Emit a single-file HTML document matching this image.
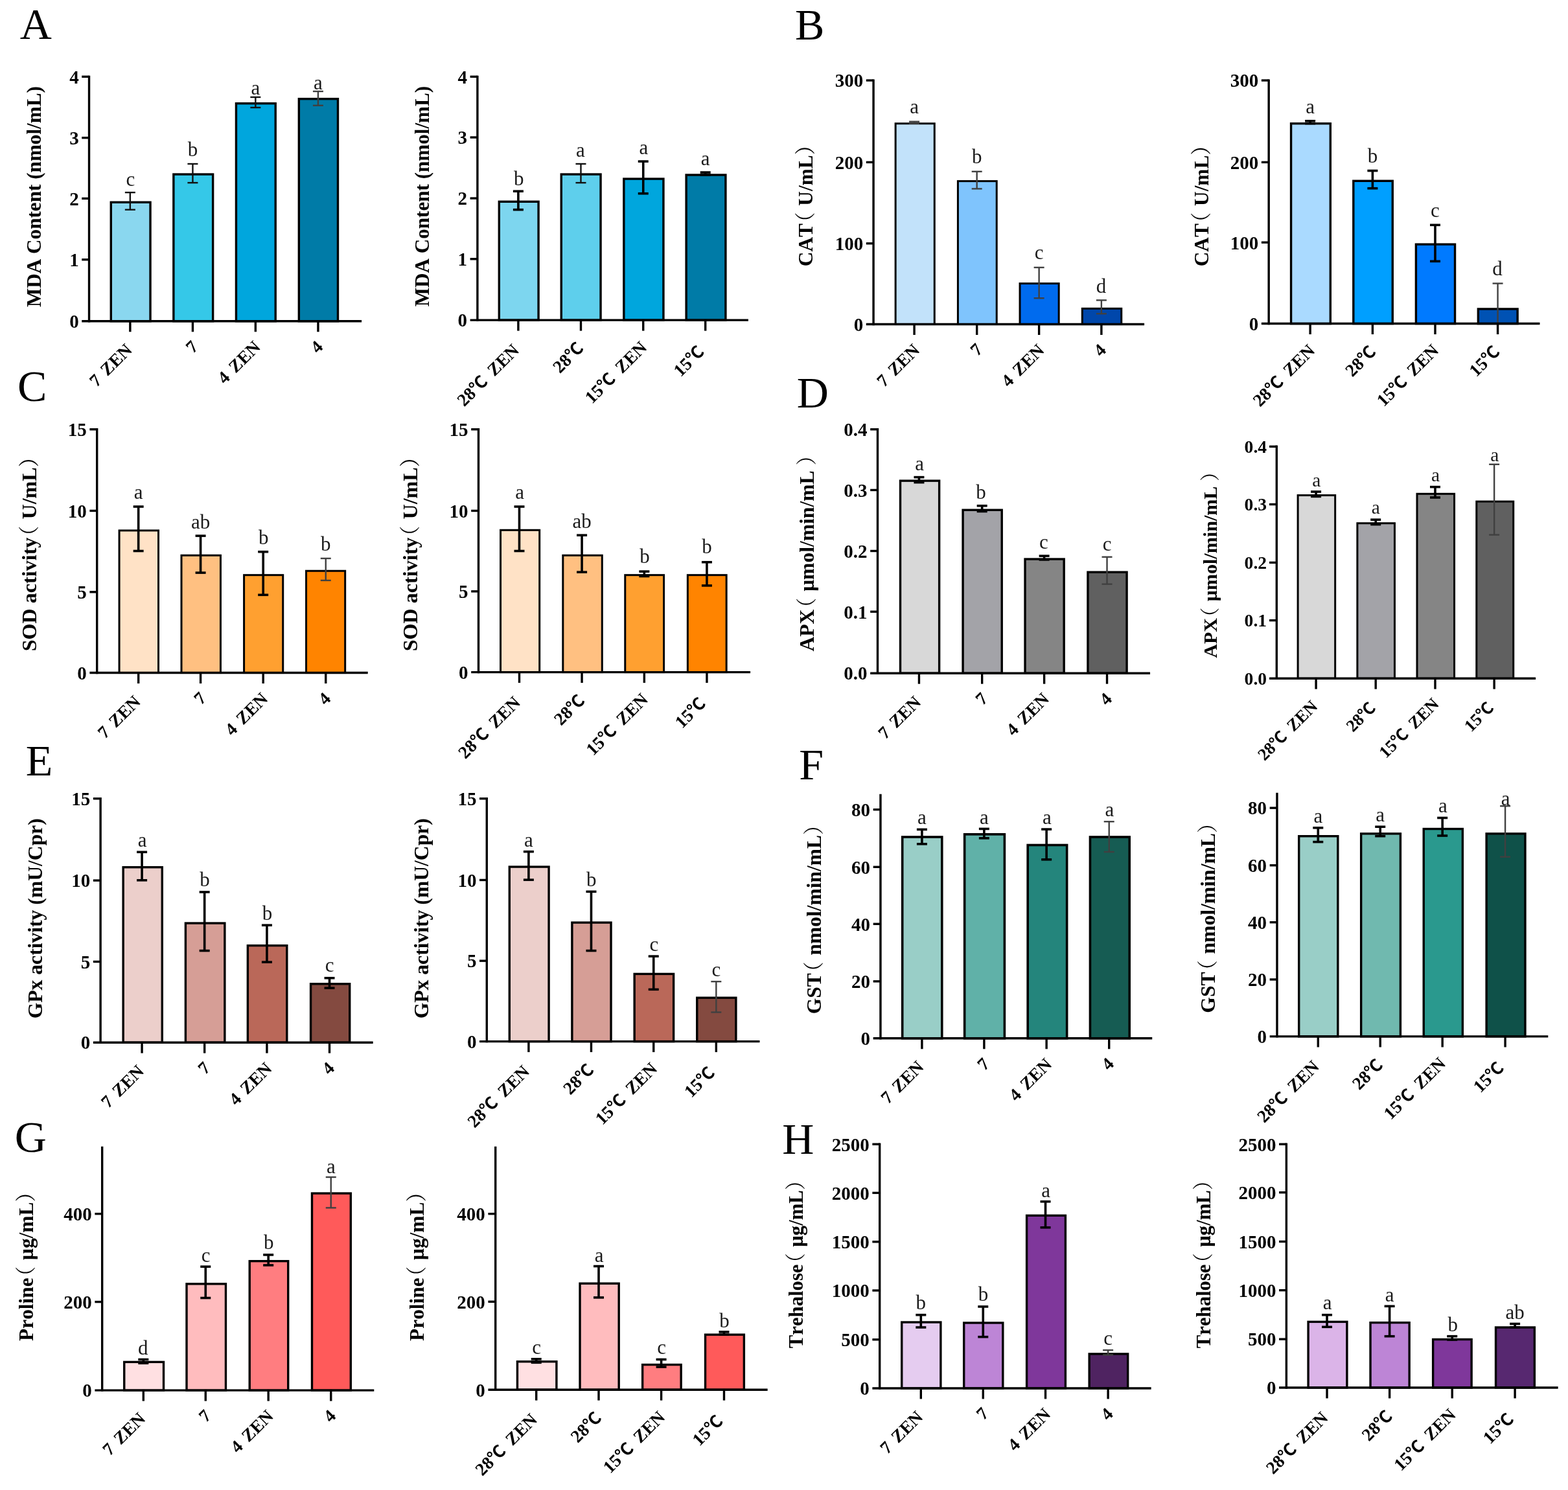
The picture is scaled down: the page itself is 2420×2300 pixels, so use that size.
<!DOCTYPE html>
<html lang="en">
<head>
<meta charset="utf-8">
<title>Figure: antioxidant enzyme activities and osmolytes</title>
<style>
html,body{margin:0;padding:0;background:#fff;}
body{width:2420px;height:2300px;overflow:hidden;}
svg{display:block;}
text{font-family:"Liberation Serif","Noto Serif CJK SC",serif;fill:#000;font-kerning:none;}
.tk{font-size:29px;font-weight:bold;text-anchor:end;}
.lt{font-size:31px;text-anchor:middle;fill:#1a1a1a;}
.xl{font-size:27.3px;font-weight:bold;text-anchor:end;}
.yl{font-size:32px;font-weight:bold;text-anchor:middle;}
.pn{font-size:68px;}
.dc{font-family:"Liberation Sans","Noto Sans CJK SC",sans-serif;font-weight:700;font-size:0.96em;letter-spacing:2px;}
.cj{font-family:"Liberation Serif","Noto Serif CJK SC",serif;font-weight:normal;}
</style>
</head>
<body>
<svg width="2420" height="2300" viewBox="0 0 2420 2300">
<rect width="2420" height="2300" fill="#fff"/>
<g>
<rect x="171.27" y="312.23" width="60.77" height="183.5" fill="#8ad7ef" stroke="#000" stroke-width="3.4"/>
<rect x="267.86" y="269.06" width="60.77" height="226.68" fill="#35c8e8" stroke="#000" stroke-width="3.4"/>
<rect x="364.45" y="159.68" width="60.77" height="336.06" fill="#00a6dd" stroke="#000" stroke-width="3.4"/>
<rect x="461.35" y="152.64" width="60.13" height="343.1" fill="#007ba7" stroke="#000" stroke-width="3.4"/>
<g stroke="#111" stroke-width="2.4" fill="none"><line x1="200.85" y1="297.1" x2="200.85" y2="323.69"/><line x1="192.85" y1="297.1" x2="208.85" y2="297.1"/><line x1="192.85" y1="323.69" x2="208.85" y2="323.69"/></g>
<g stroke="#111" stroke-width="2.4" fill="none"><line x1="297.44" y1="252.97" x2="297.44" y2="282.11"/><line x1="289.44" y1="252.97" x2="305.44" y2="252.97"/><line x1="289.44" y1="282.11" x2="305.44" y2="282.11"/></g>
<g stroke="#111" stroke-width="2.4" fill="none"><line x1="394.35" y1="149.98" x2="394.35" y2="166.01"/><line x1="386.35" y1="149.98" x2="402.35" y2="149.98"/><line x1="386.35" y1="166.01" x2="402.35" y2="166.01"/></g>
<g stroke="#404040" stroke-width="2.4" fill="none"><line x1="490.94" y1="141.02" x2="490.94" y2="162.81"/><line x1="482.94" y1="141.02" x2="498.94" y2="141.02"/><line x1="482.94" y1="162.81" x2="498.94" y2="162.81"/></g>
<g stroke="#000" stroke-width="3.4" fill="none"><line x1="137.53" y1="116.64" x2="137.53" y2="497.44"/><line x1="126.23" y1="495.74" x2="558.1" y2="495.74"/><line x1="126.23" y1="118.34" x2="137.53" y2="118.34"/><line x1="126.23" y1="212.69" x2="137.53" y2="212.69"/><line x1="126.23" y1="306.4" x2="137.53" y2="306.4"/><line x1="126.23" y1="400.75" x2="137.53" y2="400.75"/><line x1="200.85" y1="495.74" x2="200.85" y2="512.24"/><line x1="297.44" y1="495.74" x2="297.44" y2="512.24"/><line x1="394.35" y1="495.74" x2="394.35" y2="512.24"/><line x1="490.94" y1="495.74" x2="490.94" y2="512.24"/></g>
<text class="tk" x="121.63" y="128.64">4</text>
<text class="tk" x="121.63" y="222.99">3</text>
<text class="tk" x="121.63" y="316.7">2</text>
<text class="tk" x="121.63" y="411.05">1</text>
<text class="tk" x="121.63" y="506.04">0</text>
<text class="lt" x="201.49" y="286.73">c</text>
<text class="lt" x="297.44" y="241.15">b</text>
<text class="lt" x="394.35" y="146">a</text>
<text class="lt" x="490.94" y="138.01">a</text>
<text class="xl" transform="translate(205.56 541.81) rotate(-45)">7<tspan dx="3.5"> ZEN</tspan></text>
<text class="xl" transform="translate(307.52 536.81) rotate(-45)">7</text>
<text class="xl" transform="translate(403.45 537.31) rotate(-45)">4<tspan dx="3.5"> ZEN</tspan></text>
<text class="xl" transform="translate(499.81 537.11) rotate(-45)">4</text>
<text class="yl" transform="translate(62.91 303.63) rotate(-90) scale(0.9739 1)">MDA Content (nmol/mL)</text>
</g>
<g>
<rect x="770.31" y="311.27" width="60.77" height="182.86" fill="#7dd6ef" stroke="#000" stroke-width="3.4"/>
<rect x="866.26" y="269.06" width="60.77" height="225.08" fill="#5ecfec" stroke="#000" stroke-width="3.4"/>
<rect x="962.85" y="276.09" width="61.09" height="218.04" fill="#00a6dd" stroke="#000" stroke-width="3.4"/>
<rect x="1059.12" y="270.02" width="60.77" height="224.12" fill="#007ba7" stroke="#000" stroke-width="3.4"/>
<g stroke="#000" stroke-width="3.6" fill="none"><line x1="799.89" y1="295.18" x2="799.89" y2="323.69"/><line x1="791.89" y1="295.18" x2="807.89" y2="295.18"/><line x1="791.89" y1="323.69" x2="807.89" y2="323.69"/></g>
<g stroke="#111" stroke-width="2.4" fill="none"><line x1="896.48" y1="252.97" x2="896.48" y2="282.11"/><line x1="888.48" y1="252.97" x2="904.48" y2="252.97"/><line x1="888.48" y1="282.11" x2="904.48" y2="282.11"/></g>
<g stroke="#000" stroke-width="3.6" fill="none"><line x1="992.75" y1="249.13" x2="992.75" y2="298.74"/><line x1="984.75" y1="249.13" x2="1000.75" y2="249.13"/><line x1="984.75" y1="298.74" x2="1000.75" y2="298.74"/></g>
<g stroke="#000" stroke-width="3.6" fill="none"><line x1="1088.7" y1="266.08" x2="1088.7" y2="269.96"/><line x1="1080.7" y1="266.08" x2="1096.7" y2="266.08"/><line x1="1080.7" y1="269.96" x2="1096.7" y2="269.96"/></g>
<g stroke="#000" stroke-width="3.4" fill="none"><line x1="736.89" y1="116.64" x2="736.89" y2="495.84"/><line x1="725.59" y1="494.14" x2="1154.9" y2="494.14"/><line x1="725.59" y1="118.34" x2="736.89" y2="118.34"/><line x1="725.59" y1="212.05" x2="736.89" y2="212.05"/><line x1="725.59" y1="306.08" x2="736.89" y2="306.08"/><line x1="725.59" y1="399.79" x2="736.89" y2="399.79"/><line x1="799.89" y1="494.14" x2="799.89" y2="510.64"/><line x1="896.48" y1="494.14" x2="896.48" y2="510.64"/><line x1="992.75" y1="494.14" x2="992.75" y2="510.64"/><line x1="1088.7" y1="494.14" x2="1088.7" y2="510.64"/></g>
<text class="tk" x="720.99" y="128.64">4</text>
<text class="tk" x="720.99" y="222.35">3</text>
<text class="tk" x="720.99" y="316.38">2</text>
<text class="tk" x="720.99" y="410.09">1</text>
<text class="tk" x="720.99" y="504.44">0</text>
<text class="lt" x="800.85" y="285.93">b</text>
<text class="lt" x="895.84" y="241.95">a</text>
<text class="lt" x="993.39" y="238.11">a</text>
<text class="lt" x="1088.7" y="254.74">a</text>
<text class="xl" transform="translate(802.78 542.31) rotate(-45)">28<tspan class="dc">℃</tspan><tspan dx="3.5"> ZEN</tspan></text>
<text class="xl" transform="translate(903.55 537.91) rotate(-45)">28<tspan class="dc">℃</tspan></text>
<text class="xl" transform="translate(999.95 538.01) rotate(-45)">15<tspan class="dc">℃</tspan><tspan dx="3.5"> ZEN</tspan></text>
<text class="xl" transform="translate(1089.8 543.41) rotate(-45)">15<tspan class="dc">℃</tspan></text>
<text class="yl" transform="translate(661.51 303.13) rotate(-90) scale(0.9721 1)">MDA Content (nmol/mL)</text>
</g>
<g>
<rect x="1382.14" y="190.7" width="60.13" height="309.83" fill="#c2e2fa" stroke="#000" stroke-width="3.0"/>
<rect x="1478.41" y="279.61" width="59.81" height="220.92" fill="#7fc4fd" stroke="#000" stroke-width="3.0"/>
<rect x="1574.04" y="437.61" width="60.13" height="62.93" fill="#006bee" stroke="#000" stroke-width="3.0"/>
<rect x="1670.31" y="476.31" width="60.45" height="24.23" fill="#0047ab" stroke="#000" stroke-width="3.0"/>
<g stroke="#404040" stroke-width="2.4" fill="none"><line x1="1411.09" y1="187.72" x2="1411.09" y2="190.64"/><line x1="1403.09" y1="187.72" x2="1419.09" y2="187.72"/><line x1="1403.09" y1="190.64" x2="1419.09" y2="190.64"/></g>
<g stroke="#404040" stroke-width="2.4" fill="none"><line x1="1507.68" y1="264.8" x2="1507.68" y2="291.38"/><line x1="1499.68" y1="264.8" x2="1515.68" y2="264.8"/><line x1="1499.68" y1="291.38" x2="1515.68" y2="291.38"/></g>
<g stroke="#404040" stroke-width="2.4" fill="none"><line x1="1603.62" y1="412.88" x2="1603.62" y2="460.25"/><line x1="1595.62" y1="412.88" x2="1611.62" y2="412.88"/><line x1="1595.62" y1="460.25" x2="1611.62" y2="460.25"/></g>
<g stroke="#404040" stroke-width="2.4" fill="none"><line x1="1699.89" y1="463.41" x2="1699.89" y2="484.24"/><line x1="1691.89" y1="463.41" x2="1707.89" y2="463.41"/><line x1="1691.89" y1="484.24" x2="1707.89" y2="484.24"/></g>
<g stroke="#000" stroke-width="3.4" fill="none"><line x1="1348.08" y1="122.39" x2="1348.08" y2="502.23"/><line x1="1336.78" y1="500.53" x2="1766.1" y2="500.53"/><line x1="1336.78" y1="124.09" x2="1348.08" y2="124.09"/><line x1="1336.78" y1="250.43" x2="1348.08" y2="250.43"/><line x1="1336.78" y1="375.8" x2="1348.08" y2="375.8"/><line x1="1411.09" y1="500.53" x2="1411.09" y2="517.03"/><line x1="1507.68" y1="500.53" x2="1507.68" y2="517.03"/><line x1="1603.62" y1="500.53" x2="1603.62" y2="517.03"/><line x1="1699.89" y1="500.53" x2="1699.89" y2="517.03"/></g>
<text class="tk" x="1332.18" y="134.39">300</text>
<text class="tk" x="1332.18" y="260.73">200</text>
<text class="tk" x="1332.18" y="386.1">100</text>
<text class="tk" x="1332.18" y="510.83">0</text>
<text class="lt" x="1411.09" y="174.79">a</text>
<text class="lt" x="1507.68" y="252.35">b</text>
<text class="lt" x="1603.62" y="400.27">c</text>
<text class="lt" x="1699.57" y="452.24">d</text>
<text class="xl" transform="translate(1420.86 542) rotate(-45)">7<tspan dx="3.5"> ZEN</tspan></text>
<text class="xl" transform="translate(1518.23 541.2) rotate(-45)">7</text>
<text class="xl" transform="translate(1613.27 542.2) rotate(-45)">4<tspan dx="3.5"> ZEN</tspan></text>
<text class="xl" transform="translate(1708.68 542) rotate(-45)">4</text>
<text class="yl" transform="translate(1254.27 309.63) rotate(-90) scale(0.9795 1)">CAT<tspan class="cj" dx="-14">（</tspan><tspan dx="2"> U/mL</tspan><tspan class="cj">）</tspan></text>
</g>
<g>
<rect x="1992.55" y="190.7" width="60.77" height="308.88" fill="#aadaff" stroke="#000" stroke-width="3.4"/>
<rect x="2088.82" y="279.29" width="60.45" height="220.28" fill="#009fff" stroke="#000" stroke-width="3.4"/>
<rect x="2185.41" y="377.16" width="60.13" height="122.41" fill="#007aff" stroke="#000" stroke-width="3.4"/>
<rect x="2281.35" y="476.95" width="60.77" height="22.63" fill="#0052b4" stroke="#000" stroke-width="3.4"/>
<g stroke="#000" stroke-width="3.6" fill="none"><line x1="2022.13" y1="186.76" x2="2022.13" y2="190.64"/><line x1="2014.13" y1="186.76" x2="2030.13" y2="186.76"/><line x1="2014.13" y1="190.64" x2="2030.13" y2="190.64"/></g>
<g stroke="#000" stroke-width="3.6" fill="none"><line x1="2118.4" y1="263.52" x2="2118.4" y2="290.74"/><line x1="2110.4" y1="263.52" x2="2126.4" y2="263.52"/><line x1="2110.4" y1="290.74" x2="2126.4" y2="290.74"/></g>
<g stroke="#000" stroke-width="3.6" fill="none"><line x1="2214.99" y1="347.31" x2="2214.99" y2="403.32"/><line x1="2206.99" y1="347.31" x2="2222.99" y2="347.31"/><line x1="2206.99" y1="403.32" x2="2222.99" y2="403.32"/></g>
<g stroke="#404040" stroke-width="2.4" fill="none"><line x1="2311.58" y1="437.51" x2="2311.58" y2="499.27"/><line x1="2303.58" y1="437.51" x2="2319.58" y2="437.51"/></g>
<g stroke="#000" stroke-width="3.4" fill="none"><line x1="1958.17" y1="122.39" x2="1958.17" y2="501.27"/><line x1="1946.87" y1="499.57" x2="2376.5" y2="499.57"/><line x1="1946.87" y1="124.09" x2="1958.17" y2="124.09"/><line x1="1946.87" y1="250.43" x2="1958.17" y2="250.43"/><line x1="1946.87" y1="374.2" x2="1958.17" y2="374.2"/><line x1="2022.13" y1="499.57" x2="2022.13" y2="516.07"/><line x1="2118.4" y1="499.57" x2="2118.4" y2="516.07"/><line x1="2214.99" y1="499.57" x2="2214.99" y2="516.07"/><line x1="2311.58" y1="499.57" x2="2311.58" y2="516.07"/></g>
<text class="tk" x="1942.27" y="134.39">300</text>
<text class="tk" x="1942.27" y="260.73">200</text>
<text class="tk" x="1942.27" y="384.5">100</text>
<text class="tk" x="1942.27" y="509.87">0</text>
<text class="lt" x="2022.13" y="174.79">a</text>
<text class="lt" x="2118.4" y="251.39">b</text>
<text class="lt" x="2214.99" y="335.34">c</text>
<text class="lt" x="2310.94" y="425.05">d</text>
<text class="xl" transform="translate(2030.9 542.82) rotate(-45)">28<tspan class="dc">℃</tspan><tspan dx="3.5"> ZEN</tspan></text>
<text class="xl" transform="translate(2126.5 543.42) rotate(-45)">28<tspan class="dc">℃</tspan></text>
<text class="xl" transform="translate(2221.97 542.62) rotate(-45)">15<tspan class="dc">℃</tspan><tspan dx="3.5"> ZEN</tspan></text>
<text class="xl" transform="translate(2317.73 543.42) rotate(-45)">15<tspan class="dc">℃</tspan></text>
<text class="yl" transform="translate(1864.61 309.88) rotate(-90) scale(0.9768 1)">CAT<tspan class="cj" dx="-14">（</tspan><tspan dx="2"> U/mL</tspan><tspan class="cj">）</tspan></text>
</g>
<g>
<rect x="184.06" y="818.91" width="60.45" height="219.64" fill="#ffe2c6" stroke="#000" stroke-width="3.0"/>
<rect x="280.01" y="857.29" width="60.45" height="181.26" fill="#ffc081" stroke="#000" stroke-width="3.0"/>
<rect x="376.6" y="887.67" width="60.13" height="150.88" fill="#ffa030" stroke="#000" stroke-width="3.0"/>
<rect x="472.55" y="881.27" width="60.13" height="157.28" fill="#ff8400" stroke="#000" stroke-width="3.0"/>
<g stroke="#000" stroke-width="3.6" fill="none"><line x1="213.65" y1="782.03" x2="213.65" y2="850.51"/><line x1="205.65" y1="782.03" x2="221.65" y2="782.03"/><line x1="205.65" y1="850.51" x2="221.65" y2="850.51"/></g>
<g stroke="#000" stroke-width="3.6" fill="none"><line x1="309.59" y1="827.12" x2="309.59" y2="884.09"/><line x1="301.59" y1="827.12" x2="317.59" y2="827.12"/><line x1="301.59" y1="884.09" x2="317.59" y2="884.09"/></g>
<g stroke="#000" stroke-width="3.6" fill="none"><line x1="406.18" y1="851.75" x2="406.18" y2="918.31"/><line x1="398.18" y1="851.75" x2="414.18" y2="851.75"/><line x1="398.18" y1="918.31" x2="414.18" y2="918.31"/></g>
<g stroke="#404040" stroke-width="2.4" fill="none"><line x1="502.77" y1="861.98" x2="502.77" y2="895.93"/><line x1="494.77" y1="861.98" x2="510.77" y2="861.98"/><line x1="494.77" y1="895.93" x2="510.77" y2="895.93"/></g>
<g stroke="#000" stroke-width="3.4" fill="none"><line x1="149.68" y1="661.05" x2="149.68" y2="1040.25"/><line x1="138.38" y1="1038.55" x2="567.7" y2="1038.55"/><line x1="138.38" y1="662.75" x2="149.68" y2="662.75"/><line x1="138.38" y1="788.44" x2="149.68" y2="788.44"/><line x1="138.38" y1="913.82" x2="149.68" y2="913.82"/><line x1="213.65" y1="1038.55" x2="213.65" y2="1055.05"/><line x1="309.59" y1="1038.55" x2="309.59" y2="1055.05"/><line x1="406.18" y1="1038.55" x2="406.18" y2="1055.05"/><line x1="502.77" y1="1038.55" x2="502.77" y2="1055.05"/></g>
<text class="tk" x="133.78" y="673.05">15</text>
<text class="tk" x="133.78" y="798.74">10</text>
<text class="tk" x="133.78" y="924.12">5</text>
<text class="tk" x="133.78" y="1048.85">0</text>
<text class="lt" x="213.65" y="770.37">a</text>
<text class="lt" x="309.59" y="815.95">ab</text>
<text class="lt" x="406.82" y="839.94">b</text>
<text class="lt" x="502.77" y="850.49">b</text>
<text class="xl" transform="translate(218.44 1084.75) rotate(-45)">7<tspan dx="3.5"> ZEN</tspan></text>
<text class="xl" transform="translate(319.98 1079.25) rotate(-45)">7</text>
<text class="xl" transform="translate(414.95 1080.25) rotate(-45)">4<tspan dx="3.5"> ZEN</tspan></text>
<text class="xl" transform="translate(511.82 1080.05) rotate(-45)">4</text>
<text class="yl" transform="translate(55.57 847.19) rotate(-90) scale(1.0041 1)">SOD activity<tspan class="cj" dx="-14">（</tspan><tspan dx="2"> U/mL</tspan><tspan class="cj">）</tspan></text>
</g>
<g>
<rect x="772.55" y="818.27" width="60.13" height="219.32" fill="#ffe2c6" stroke="#000" stroke-width="3.0"/>
<rect x="868.82" y="857.29" width="60.45" height="180.3" fill="#ffc081" stroke="#000" stroke-width="3.0"/>
<rect x="964.77" y="887.67" width="59.81" height="149.92" fill="#ffa030" stroke="#000" stroke-width="3.0"/>
<rect x="1061.35" y="887.67" width="59.81" height="149.92" fill="#ff8400" stroke="#000" stroke-width="3.0"/>
<g stroke="#000" stroke-width="3.6" fill="none"><line x1="801.49" y1="782.03" x2="801.49" y2="850.51"/><line x1="793.49" y1="782.03" x2="809.49" y2="782.03"/><line x1="793.49" y1="850.51" x2="809.49" y2="850.51"/></g>
<g stroke="#000" stroke-width="3.6" fill="none"><line x1="898.08" y1="826.16" x2="898.08" y2="883.13"/><line x1="890.08" y1="826.16" x2="906.08" y2="826.16"/><line x1="890.08" y1="883.13" x2="906.08" y2="883.13"/></g>
<g stroke="#000" stroke-width="3.6" fill="none"><line x1="994.35" y1="882.13" x2="994.35" y2="889.53"/><line x1="986.35" y1="882.13" x2="1002.35" y2="882.13"/><line x1="986.35" y1="889.53" x2="1002.35" y2="889.53"/></g>
<g stroke="#000" stroke-width="3.6" fill="none"><line x1="1090.94" y1="867.74" x2="1090.94" y2="903.92"/><line x1="1082.94" y1="867.74" x2="1098.94" y2="867.74"/><line x1="1082.94" y1="903.92" x2="1098.94" y2="903.92"/></g>
<g stroke="#000" stroke-width="3.4" fill="none"><line x1="738.49" y1="661.05" x2="738.49" y2="1039.29"/><line x1="727.19" y1="1037.59" x2="1158.1" y2="1037.59"/><line x1="727.19" y1="662.75" x2="738.49" y2="662.75"/><line x1="727.19" y1="788.44" x2="738.49" y2="788.44"/><line x1="727.19" y1="912.86" x2="738.49" y2="912.86"/><line x1="801.49" y1="1037.59" x2="801.49" y2="1054.09"/><line x1="898.08" y1="1037.59" x2="898.08" y2="1054.09"/><line x1="994.35" y1="1037.59" x2="994.35" y2="1054.09"/><line x1="1090.94" y1="1037.59" x2="1090.94" y2="1054.09"/></g>
<text class="tk" x="722.59" y="673.05">15</text>
<text class="tk" x="722.59" y="798.74">10</text>
<text class="tk" x="722.59" y="923.16">5</text>
<text class="tk" x="722.59" y="1047.89">0</text>
<text class="lt" x="802.13" y="770.37">a</text>
<text class="lt" x="898.08" y="815.31">ab</text>
<text class="lt" x="994.99" y="868.72">b</text>
<text class="lt" x="1090.94" y="854.33">b</text>
<text class="xl" transform="translate(804.58 1086.17) rotate(-45)">28<tspan class="dc">℃</tspan><tspan dx="3.5"> ZEN</tspan></text>
<text class="xl" transform="translate(905.34 1081.77) rotate(-45)">28<tspan class="dc">℃</tspan></text>
<text class="xl" transform="translate(1001.75 1081.37) rotate(-45)">15<tspan class="dc">℃</tspan><tspan dx="3.5"> ZEN</tspan></text>
<text class="xl" transform="translate(1092.01 1086.27) rotate(-45)">15<tspan class="dc">℃</tspan></text>
<text class="yl" transform="translate(643.68 847.19) rotate(-90) scale(1.0041 1)">SOD activity<tspan class="cj" dx="-14">（</tspan><tspan dx="2"> U/mL</tspan><tspan class="cj">）</tspan></text>
</g>
<g>
<rect x="1389.5" y="742.15" width="60.13" height="297.04" fill="#d8d8d8" stroke="#000" stroke-width="3.4"/>
<rect x="1486.09" y="787.24" width="60.13" height="251.95" fill="#a3a3a8" stroke="#000" stroke-width="3.4"/>
<rect x="1582.04" y="863.04" width="60.13" height="176.15" fill="#858585" stroke="#000" stroke-width="3.4"/>
<rect x="1678.94" y="883.19" width="60.13" height="156" fill="#606060" stroke="#000" stroke-width="3.4"/>
<g stroke="#000" stroke-width="3.6" fill="none"><line x1="1418.44" y1="736.61" x2="1418.44" y2="744.65"/><line x1="1410.44" y1="736.61" x2="1426.44" y2="736.61"/><line x1="1410.44" y1="744.65" x2="1426.44" y2="744.65"/></g>
<g stroke="#000" stroke-width="3.6" fill="none"><line x1="1515.67" y1="780.75" x2="1515.67" y2="789.42"/><line x1="1507.67" y1="780.75" x2="1523.67" y2="780.75"/><line x1="1507.67" y1="789.42" x2="1523.67" y2="789.42"/></g>
<g stroke="#000" stroke-width="3.6" fill="none"><line x1="1611.62" y1="858.15" x2="1611.62" y2="863.94"/><line x1="1603.62" y1="858.15" x2="1619.62" y2="858.15"/><line x1="1603.62" y1="863.94" x2="1619.62" y2="863.94"/></g>
<g stroke="#404040" stroke-width="2.4" fill="none"><line x1="1708.53" y1="859.75" x2="1708.53" y2="901.68"/><line x1="1700.53" y1="859.75" x2="1716.53" y2="859.75"/><line x1="1700.53" y1="901.68" x2="1716.53" y2="901.68"/></g>
<g stroke="#000" stroke-width="3.4" fill="none"><line x1="1354.48" y1="661.05" x2="1354.48" y2="1040.89"/><line x1="1343.18" y1="1039.19" x2="1775.05" y2="1039.19"/><line x1="1343.18" y1="662.75" x2="1354.48" y2="662.75"/><line x1="1343.18" y1="756.46" x2="1354.48" y2="756.46"/><line x1="1343.18" y1="850.49" x2="1354.48" y2="850.49"/><line x1="1343.18" y1="944.2" x2="1354.48" y2="944.2"/><line x1="1418.44" y1="1039.19" x2="1418.44" y2="1055.69"/><line x1="1515.67" y1="1039.19" x2="1515.67" y2="1055.69"/><line x1="1611.62" y1="1039.19" x2="1611.62" y2="1055.69"/><line x1="1708.53" y1="1039.19" x2="1708.53" y2="1055.69"/></g>
<text class="tk" x="1338.58" y="673.05">0.4</text>
<text class="tk" x="1338.58" y="766.76">0.3</text>
<text class="tk" x="1338.58" y="860.79">0.2</text>
<text class="tk" x="1338.58" y="954.5">0.1</text>
<text class="tk" x="1338.58" y="1049.49">0.0</text>
<text class="lt" x="1419.08" y="726.24">a</text>
<text class="lt" x="1514.07" y="770.21">b</text>
<text class="lt" x="1610.98" y="847.13">c</text>
<text class="lt" x="1708.53" y="849.69">c</text>
<text class="xl" transform="translate(1422.83 1085.67) rotate(-45)">7<tspan dx="3.5"> ZEN</tspan></text>
<text class="xl" transform="translate(1526.21 1080.17) rotate(-45)">7</text>
<text class="xl" transform="translate(1620.76 1080.67) rotate(-45)">4<tspan dx="3.5"> ZEN</tspan></text>
<text class="xl" transform="translate(1717.59 1080.47) rotate(-45)">4</text>
<text class="yl" transform="translate(1255.83 846.19) rotate(-90) scale(0.9881 1)">APX<tspan class="cj" dx="-14">（</tspan><tspan dx="2"> μmol/min/mL </tspan><tspan class="cj">）</tspan></text>
</g>
<g>
<rect x="2003.1" y="764.54" width="57.57" height="282.65" fill="#d8d8d8" stroke="#000" stroke-width="3.0"/>
<rect x="2094.89" y="807.71" width="57.57" height="239.47" fill="#a3a3a8" stroke="#000" stroke-width="3.0"/>
<rect x="2187" y="762.3" width="57.57" height="284.89" fill="#858585" stroke="#000" stroke-width="3.0"/>
<rect x="2278.8" y="774.13" width="56.93" height="273.05" fill="#606060" stroke="#000" stroke-width="3.0"/>
<g stroke="#000" stroke-width="3.6" fill="none"><line x1="2031.09" y1="759" x2="2031.09" y2="766.4"/><line x1="2023.09" y1="759" x2="2039.09" y2="759"/><line x1="2023.09" y1="766.4" x2="2039.09" y2="766.4"/></g>
<g stroke="#000" stroke-width="3.6" fill="none"><line x1="2123.2" y1="802.18" x2="2123.2" y2="809.57"/><line x1="2115.2" y1="802.18" x2="2131.2" y2="802.18"/><line x1="2115.2" y1="809.57" x2="2131.2" y2="809.57"/></g>
<g stroke="#000" stroke-width="3.6" fill="none"><line x1="2214.99" y1="751.64" x2="2214.99" y2="767.99"/><line x1="2206.99" y1="751.64" x2="2222.99" y2="751.64"/><line x1="2206.99" y1="767.99" x2="2222.99" y2="767.99"/></g>
<g stroke="#404040" stroke-width="2.4" fill="none"><line x1="2306.14" y1="716.78" x2="2306.14" y2="825.56"/><line x1="2298.14" y1="716.78" x2="2314.14" y2="716.78"/><line x1="2298.14" y1="825.56" x2="2314.14" y2="825.56"/></g>
<g stroke="#000" stroke-width="3.4" fill="none"><line x1="1970.32" y1="687.6" x2="1970.32" y2="1048.89"/><line x1="1959.02" y1="1047.19" x2="2370.11" y2="1047.19"/><line x1="1959.02" y1="689.3" x2="1970.32" y2="689.3"/><line x1="1959.02" y1="778.53" x2="1970.32" y2="778.53"/><line x1="1959.02" y1="868.4" x2="1970.32" y2="868.4"/><line x1="1959.02" y1="957.63" x2="1970.32" y2="957.63"/><line x1="2031.09" y1="1047.19" x2="2031.09" y2="1063.69"/><line x1="2123.2" y1="1047.19" x2="2123.2" y2="1063.69"/><line x1="2214.99" y1="1047.19" x2="2214.99" y2="1063.69"/><line x1="2306.14" y1="1047.19" x2="2306.14" y2="1063.69"/></g>
<text class="tk" x="1955.06" y="699.08" style="font-size:27.55px">0.4</text>
<text class="tk" x="1955.06" y="788.31" style="font-size:27.55px">0.3</text>
<text class="tk" x="1955.06" y="878.19" style="font-size:27.55px">0.2</text>
<text class="tk" x="1955.06" y="967.42" style="font-size:27.55px">0.1</text>
<text class="tk" x="1955.06" y="1056.97" style="font-size:27.55px">0.0</text>
<text class="lt" x="2031.73" y="750.54" style="font-size:29.45px">a</text>
<text class="lt" x="2123.2" y="792.76" style="font-size:29.45px">a</text>
<text class="lt" x="2215.63" y="742.55" style="font-size:29.45px">a</text>
<text class="lt" x="2306.78" y="712.16" style="font-size:29.45px">a</text>
<text class="xl" transform="translate(2034.86 1092.16) rotate(-45) scale(0.965)">28<tspan class="dc">℃</tspan><tspan dx="3.5"> ZEN</tspan></text>
<text class="xl" transform="translate(2125.99 1093.16) rotate(-45) scale(0.965)">28<tspan class="dc">℃</tspan></text>
<text class="xl" transform="translate(2222.27 1088.36) rotate(-45) scale(0.965)">15<tspan class="dc">℃</tspan><tspan dx="3.5"> ZEN</tspan></text>
<text class="xl" transform="translate(2308.32 1093.06) rotate(-45) scale(0.965)">15<tspan class="dc">℃</tspan></text>
<text class="yl" transform="translate(1877.97 864.38) rotate(-90) scale(0.9909 1)" style="font-size:30.4px">APX<tspan class="cj" dx="-14">（</tspan><tspan dx="2"> μmol/min/mL </tspan><tspan class="cj">）</tspan></text>
</g>
<g>
<rect x="190.14" y="1338.69" width="60.13" height="270.5" fill="#eccfcb" stroke="#000" stroke-width="3.4"/>
<rect x="286.41" y="1425.05" width="60.45" height="184.14" fill="#d69e96" stroke="#000" stroke-width="3.4"/>
<rect x="382.36" y="1459.59" width="60.45" height="149.6" fill="#ba6859" stroke="#000" stroke-width="3.4"/>
<rect x="479.58" y="1518.76" width="60.13" height="90.43" fill="#844a40" stroke="#000" stroke-width="3.4"/>
<g stroke="#000" stroke-width="3.6" fill="none"><line x1="219.08" y1="1315.25" x2="219.08" y2="1358.78"/><line x1="211.08" y1="1315.25" x2="227.08" y2="1315.25"/><line x1="211.08" y1="1358.78" x2="227.08" y2="1358.78"/></g>
<g stroke="#000" stroke-width="3.6" fill="none"><line x1="315.67" y1="1376.97" x2="315.67" y2="1467.53"/><line x1="307.67" y1="1376.97" x2="323.67" y2="1376.97"/><line x1="307.67" y1="1467.53" x2="323.67" y2="1467.53"/></g>
<g stroke="#000" stroke-width="3.6" fill="none"><line x1="411.94" y1="1428.15" x2="411.94" y2="1485.12"/><line x1="403.94" y1="1428.15" x2="419.94" y2="1428.15"/><line x1="403.94" y1="1485.12" x2="419.94" y2="1485.12"/></g>
<g stroke="#000" stroke-width="3.6" fill="none"><line x1="508.53" y1="1509.7" x2="508.53" y2="1525.09"/><line x1="500.53" y1="1509.7" x2="516.53" y2="1509.7"/><line x1="500.53" y1="1525.09" x2="516.53" y2="1525.09"/></g>
<g stroke="#000" stroke-width="3.4" fill="none"><line x1="155.12" y1="1231.05" x2="155.12" y2="1610.89"/><line x1="143.82" y1="1609.19" x2="575.69" y2="1609.19"/><line x1="143.82" y1="1232.75" x2="155.12" y2="1232.75"/><line x1="143.82" y1="1359.08" x2="155.12" y2="1359.08"/><line x1="143.82" y1="1484.46" x2="155.12" y2="1484.46"/><line x1="219.08" y1="1609.19" x2="219.08" y2="1625.69"/><line x1="315.67" y1="1609.19" x2="315.67" y2="1625.69"/><line x1="411.94" y1="1609.19" x2="411.94" y2="1625.69"/><line x1="508.53" y1="1609.19" x2="508.53" y2="1625.69"/></g>
<text class="tk" x="139.22" y="1243.05">15</text>
<text class="tk" x="139.22" y="1369.38">10</text>
<text class="tk" x="139.22" y="1494.76">5</text>
<text class="tk" x="139.22" y="1619.49">0</text>
<text class="lt" x="219.72" y="1306.79">a</text>
<text class="lt" x="315.99" y="1368.36">b</text>
<text class="lt" x="412.58" y="1420.49">b</text>
<text class="lt" x="508.53" y="1500.29">c</text>
<text class="xl" transform="translate(223.75 1655.17) rotate(-45)">7<tspan dx="3.5"> ZEN</tspan></text>
<text class="xl" transform="translate(326.21 1650.17) rotate(-45)">7</text>
<text class="xl" transform="translate(421.22 1651.17) rotate(-45)">4<tspan dx="3.5"> ZEN</tspan></text>
<text class="xl" transform="translate(517.59 1650.47) rotate(-45)">4</text>
<text class="yl" transform="translate(65.17 1417.75) rotate(-90) scale(0.9890 1)">GPx activity (mU/Cpr)</text>
</g>
<g>
<rect x="786.3" y="1338.05" width="60.77" height="269.54" fill="#eccfcb" stroke="#000" stroke-width="3.4"/>
<rect x="882.89" y="1424.09" width="60.13" height="183.5" fill="#d69e96" stroke="#000" stroke-width="3.4"/>
<rect x="979.16" y="1503.41" width="60.45" height="104.18" fill="#ba6859" stroke="#000" stroke-width="3.4"/>
<rect x="1075.75" y="1540.19" width="60.13" height="67.4" fill="#844a40" stroke="#000" stroke-width="3.4"/>
<g stroke="#000" stroke-width="3.6" fill="none"><line x1="815.88" y1="1314.61" x2="815.88" y2="1358.14"/><line x1="807.88" y1="1314.61" x2="823.88" y2="1314.61"/><line x1="807.88" y1="1358.14" x2="823.88" y2="1358.14"/></g>
<g stroke="#000" stroke-width="3.6" fill="none"><line x1="912.47" y1="1376.33" x2="912.47" y2="1467.53"/><line x1="904.47" y1="1376.33" x2="920.47" y2="1376.33"/><line x1="904.47" y1="1467.53" x2="920.47" y2="1467.53"/></g>
<g stroke="#000" stroke-width="3.6" fill="none"><line x1="1008.74" y1="1476.12" x2="1008.74" y2="1527.33"/><line x1="1000.74" y1="1476.12" x2="1016.74" y2="1476.12"/><line x1="1000.74" y1="1527.33" x2="1016.74" y2="1527.33"/></g>
<g stroke="#404040" stroke-width="2.4" fill="none"><line x1="1105.33" y1="1515.14" x2="1105.33" y2="1562.51"/><line x1="1097.33" y1="1515.14" x2="1113.33" y2="1515.14"/><line x1="1097.33" y1="1562.51" x2="1113.33" y2="1562.51"/></g>
<g stroke="#000" stroke-width="3.4" fill="none"><line x1="751.28" y1="1231.05" x2="751.28" y2="1609.29"/><line x1="739.98" y1="1607.59" x2="1172.49" y2="1607.59"/><line x1="739.98" y1="1232.75" x2="751.28" y2="1232.75"/><line x1="739.98" y1="1358.44" x2="751.28" y2="1358.44"/><line x1="739.98" y1="1483.18" x2="751.28" y2="1483.18"/><line x1="815.88" y1="1607.59" x2="815.88" y2="1624.09"/><line x1="912.47" y1="1607.59" x2="912.47" y2="1624.09"/><line x1="1008.74" y1="1607.59" x2="1008.74" y2="1624.09"/><line x1="1105.33" y1="1607.59" x2="1105.33" y2="1624.09"/></g>
<text class="tk" x="735.38" y="1243.05">15</text>
<text class="tk" x="735.38" y="1368.74">10</text>
<text class="tk" x="735.38" y="1493.48">5</text>
<text class="tk" x="735.38" y="1617.89">0</text>
<text class="lt" x="815.88" y="1306.79">a</text>
<text class="lt" x="912.79" y="1368.36">b</text>
<text class="lt" x="1009.38" y="1468.3">c</text>
<text class="lt" x="1105.33" y="1506.68">c</text>
<text class="xl" transform="translate(818.75 1655.67) rotate(-45)">28<tspan class="dc">℃</tspan><tspan dx="3.5"> ZEN</tspan></text>
<text class="xl" transform="translate(919.52 1651.77) rotate(-45)">28<tspan class="dc">℃</tspan></text>
<text class="xl" transform="translate(1015.93 1651.37) rotate(-45)">15<tspan class="dc">℃</tspan><tspan dx="3.5"> ZEN</tspan></text>
<text class="xl" transform="translate(1106.19 1656.27) rotate(-45)">15<tspan class="dc">℃</tspan></text>
<text class="yl" transform="translate(661.41 1417.75) rotate(-90) scale(0.9890 1)">GPx activity (mU/Cpr)</text>
</g>
<g>
<rect x="1392.7" y="1292" width="61.09" height="310.79" fill="#99cec7" stroke="#000" stroke-width="3.6"/>
<rect x="1488.65" y="1287.84" width="61.73" height="314.95" fill="#60b1a8" stroke="#000" stroke-width="3.6"/>
<rect x="1586.19" y="1304.47" width="60.45" height="298.32" fill="#24857c" stroke="#000" stroke-width="3.6"/>
<rect x="1682.46" y="1292" width="60.77" height="310.79" fill="#165c53" stroke="#000" stroke-width="3.6"/>
<g stroke="#000" stroke-width="3.6" fill="none"><line x1="1422.92" y1="1280.39" x2="1422.92" y2="1302.81"/><line x1="1414.92" y1="1280.39" x2="1430.92" y2="1280.39"/><line x1="1414.92" y1="1302.81" x2="1430.92" y2="1302.81"/></g>
<g stroke="#000" stroke-width="3.6" fill="none"><line x1="1518.87" y1="1279.43" x2="1518.87" y2="1293.86"/><line x1="1510.87" y1="1279.43" x2="1526.87" y2="1279.43"/><line x1="1510.87" y1="1293.86" x2="1526.87" y2="1293.86"/></g>
<g stroke="#000" stroke-width="3.6" fill="none"><line x1="1615.14" y1="1280.07" x2="1615.14" y2="1326.8"/><line x1="1607.14" y1="1280.07" x2="1623.14" y2="1280.07"/><line x1="1607.14" y1="1326.8" x2="1623.14" y2="1326.8"/></g>
<g stroke="#404040" stroke-width="2.4" fill="none"><line x1="1711.73" y1="1268.23" x2="1711.73" y2="1314.97"/><line x1="1703.73" y1="1268.23" x2="1719.73" y2="1268.23"/><line x1="1703.73" y1="1314.97" x2="1719.73" y2="1314.97"/></g>
<g stroke="#000" stroke-width="3.4" fill="none"><line x1="1358.96" y1="1225.71" x2="1358.96" y2="1604.49"/><line x1="1347.66" y1="1602.79" x2="1778.25" y2="1602.79"/><line x1="1347.66" y1="1249.7" x2="1358.96" y2="1249.7"/><line x1="1347.66" y1="1338.29" x2="1358.96" y2="1338.29"/><line x1="1347.66" y1="1426.25" x2="1358.96" y2="1426.25"/><line x1="1347.66" y1="1514.84" x2="1358.96" y2="1514.84"/><line x1="1422.92" y1="1602.79" x2="1422.92" y2="1619.29"/><line x1="1518.87" y1="1602.79" x2="1518.87" y2="1619.29"/><line x1="1615.14" y1="1602.79" x2="1615.14" y2="1619.29"/><line x1="1711.73" y1="1602.79" x2="1711.73" y2="1619.29"/></g>
<text class="tk" x="1343.06" y="1260">80</text>
<text class="tk" x="1343.06" y="1348.59">60</text>
<text class="tk" x="1343.06" y="1436.55">40</text>
<text class="tk" x="1343.06" y="1525.14">20</text>
<text class="tk" x="1343.06" y="1613.09">0</text>
<text class="lt" x="1422.92" y="1271.61">a</text>
<text class="lt" x="1518.87" y="1271.61">a</text>
<text class="lt" x="1615.78" y="1271.61">a</text>
<text class="lt" x="1712.37" y="1260.42">a</text>
<text class="xl" transform="translate(1427.26 1648.48) rotate(-45)">7<tspan dx="3.5"> ZEN</tspan></text>
<text class="xl" transform="translate(1528.81 1643.98) rotate(-45)">7</text>
<text class="xl" transform="translate(1624.82 1644.48) rotate(-45)">4<tspan dx="3.5"> ZEN</tspan></text>
<text class="xl" transform="translate(1720.68 1643.78) rotate(-45)">4</text>
<text class="yl" transform="translate(1266.57 1411.35) rotate(-90) scale(0.9848 1)">GST<tspan class="cj" dx="-14">（</tspan><tspan dx="2"> nmol/min/mL</tspan><tspan class="cj">）</tspan></text>
</g>
<g>
<rect x="2004.7" y="1290.72" width="60.13" height="309.19" fill="#99cec7" stroke="#000" stroke-width="3.4"/>
<rect x="2100.65" y="1286.88" width="60.77" height="313.03" fill="#70b9af" stroke="#000" stroke-width="3.4"/>
<rect x="2197.24" y="1279.53" width="60.13" height="320.39" fill="#2a998e" stroke="#000" stroke-width="3.4"/>
<rect x="2294.15" y="1286.88" width="59.81" height="313.03" fill="#0f5149" stroke="#000" stroke-width="3.4"/>
<g stroke="#000" stroke-width="3.6" fill="none"><line x1="2034.29" y1="1277.83" x2="2034.29" y2="1299.61"/><line x1="2026.29" y1="1277.83" x2="2042.29" y2="1277.83"/><line x1="2026.29" y1="1299.61" x2="2042.29" y2="1299.61"/></g>
<g stroke="#000" stroke-width="3.6" fill="none"><line x1="2130.23" y1="1276.23" x2="2130.23" y2="1290.66"/><line x1="2122.23" y1="1276.23" x2="2138.23" y2="1276.23"/><line x1="2122.23" y1="1290.66" x2="2138.23" y2="1290.66"/></g>
<g stroke="#000" stroke-width="3.6" fill="none"><line x1="2226.18" y1="1262.47" x2="2226.18" y2="1290.02"/><line x1="2218.18" y1="1262.47" x2="2234.18" y2="1262.47"/><line x1="2218.18" y1="1290.02" x2="2234.18" y2="1290.02"/></g>
<g stroke="#404040" stroke-width="2.4" fill="none"><line x1="2323.09" y1="1244.24" x2="2323.09" y2="1322.64"/><line x1="2315.09" y1="1244.24" x2="2331.09" y2="1244.24"/><line x1="2315.09" y1="1322.64" x2="2331.09" y2="1322.64"/></g>
<g stroke="#000" stroke-width="3.4" fill="none"><line x1="1970.96" y1="1223.8" x2="1970.96" y2="1601.61"/><line x1="1959.66" y1="1599.91" x2="2389.3" y2="1599.91"/><line x1="1959.66" y1="1247.14" x2="1970.96" y2="1247.14"/><line x1="1959.66" y1="1335.74" x2="1970.96" y2="1335.74"/><line x1="1959.66" y1="1423.69" x2="1970.96" y2="1423.69"/><line x1="1959.66" y1="1511.96" x2="1970.96" y2="1511.96"/><line x1="2034.29" y1="1599.91" x2="2034.29" y2="1616.41"/><line x1="2130.23" y1="1599.91" x2="2130.23" y2="1616.41"/><line x1="2226.18" y1="1599.91" x2="2226.18" y2="1616.41"/><line x1="2323.09" y1="1599.91" x2="2323.09" y2="1616.41"/></g>
<text class="tk" x="1955.06" y="1257.44">80</text>
<text class="tk" x="1955.06" y="1346.04">60</text>
<text class="tk" x="1955.06" y="1433.99">40</text>
<text class="tk" x="1955.06" y="1522.26">20</text>
<text class="tk" x="1955.06" y="1610.21">0</text>
<text class="lt" x="2034.29" y="1270.01">a</text>
<text class="lt" x="2130.23" y="1268.41">a</text>
<text class="lt" x="2226.82" y="1254.02">a</text>
<text class="lt" x="2323.73" y="1242.83">a</text>
<text class="xl" transform="translate(2037.46 1648.14) rotate(-45)">28<tspan class="dc">℃</tspan><tspan dx="3.5"> ZEN</tspan></text>
<text class="xl" transform="translate(2137.3 1644.24) rotate(-45)">28<tspan class="dc">℃</tspan></text>
<text class="xl" transform="translate(2232.75 1643.34) rotate(-45)">15<tspan class="dc">℃</tspan><tspan dx="3.5"> ZEN</tspan></text>
<text class="xl" transform="translate(2323.98 1648.74) rotate(-45)">15<tspan class="dc">℃</tspan></text>
<text class="yl" transform="translate(1875.37 1409) rotate(-90) scale(0.9900 1)">GST<tspan class="cj" dx="-14">（</tspan><tspan dx="2"> nmol/min/mL</tspan><tspan class="cj">）</tspan></text>
</g>
<g>
<rect x="191.74" y="2102.43" width="60.77" height="43.74" fill="#ffe0e2" stroke="#000" stroke-width="3.4"/>
<rect x="288.01" y="1981.85" width="60.45" height="164.31" fill="#ffbcbe" stroke="#000" stroke-width="3.4"/>
<rect x="385.23" y="1946.67" width="59.49" height="199.49" fill="#ff7d80" stroke="#000" stroke-width="3.4"/>
<rect x="481.5" y="1842.08" width="59.81" height="304.08" fill="#ff5a5a" stroke="#000" stroke-width="3.4"/>
<g stroke="#000" stroke-width="3.6" fill="none"><line x1="221.32" y1="2098.49" x2="221.32" y2="2104.28"/><line x1="213.32" y1="2098.49" x2="229.32" y2="2098.49"/><line x1="213.32" y1="2104.28" x2="229.32" y2="2104.28"/></g>
<g stroke="#000" stroke-width="3.6" fill="none"><line x1="317.27" y1="1955.2" x2="317.27" y2="2003.54"/><line x1="309.27" y1="1955.2" x2="325.27" y2="1955.2"/><line x1="309.27" y1="2003.54" x2="325.27" y2="2003.54"/></g>
<g stroke="#000" stroke-width="3.6" fill="none"><line x1="414.18" y1="1936.97" x2="414.18" y2="1953"/><line x1="406.18" y1="1936.97" x2="422.18" y2="1936.97"/><line x1="406.18" y1="1953" x2="422.18" y2="1953"/></g>
<g stroke="#404040" stroke-width="2.4" fill="none"><line x1="510.77" y1="1817.04" x2="510.77" y2="1864.41"/><line x1="502.77" y1="1817.04" x2="518.77" y2="1817.04"/><line x1="502.77" y1="1864.41" x2="518.77" y2="1864.41"/></g>
<g stroke="#000" stroke-width="3.4" fill="none"><line x1="157.68" y1="1769.72" x2="157.68" y2="2147.86"/><line x1="146.38" y1="2146.16" x2="577.29" y2="2146.16"/><line x1="146.38" y1="1873.67" x2="157.68" y2="1873.67"/><line x1="146.38" y1="2009.59" x2="157.68" y2="2009.59"/><line x1="221.32" y1="2146.16" x2="221.32" y2="2162.66"/><line x1="317.27" y1="2146.16" x2="317.27" y2="2162.66"/><line x1="414.18" y1="2146.16" x2="414.18" y2="2162.66"/><line x1="510.77" y1="2146.16" x2="510.77" y2="2162.66"/></g>
<text class="tk" x="141.78" y="1883.97">400</text>
<text class="tk" x="141.78" y="2019.89">200</text>
<text class="tk" x="141.78" y="2156.46">0</text>
<text class="lt" x="220.68" y="2090.51">d</text>
<text class="lt" x="317.59" y="1948.35">c</text>
<text class="lt" x="414.82" y="1928.36">b</text>
<text class="lt" x="510.77" y="1810.82">a</text>
<text class="xl" transform="translate(225.97 2191.59) rotate(-45)">7<tspan dx="3.5"> ZEN</tspan></text>
<text class="xl" transform="translate(327.51 2187.09) rotate(-45)">7</text>
<text class="xl" transform="translate(423.44 2187.59) rotate(-45)">4<tspan dx="3.5"> ZEN</tspan></text>
<text class="xl" transform="translate(519.8 2187.39) rotate(-45)">4</text>
<text class="yl" transform="translate(50.63 1947.1) rotate(-90) scale(0.9808 1)">Proline<tspan class="cj" dx="-14">（</tspan><tspan dx="2"> μg/mL</tspan><tspan class="cj">）</tspan></text>
</g>
<g>
<rect x="798.45" y="2101.79" width="60.45" height="43.42" fill="#ffe0e2" stroke="#000" stroke-width="3.4"/>
<rect x="895.04" y="1981.21" width="60.13" height="163.99" fill="#ffbcbe" stroke="#000" stroke-width="3.4"/>
<rect x="991.63" y="2106.58" width="59.49" height="38.62" fill="#ff7d80" stroke="#000" stroke-width="3.4"/>
<rect x="1088.54" y="2060.21" width="59.81" height="84.99" fill="#ff5a5a" stroke="#000" stroke-width="3.4"/>
<g stroke="#000" stroke-width="3.6" fill="none"><line x1="827.72" y1="2097.85" x2="827.72" y2="2103.32"/><line x1="819.72" y1="2097.85" x2="835.72" y2="2097.85"/><line x1="819.72" y1="2103.32" x2="835.72" y2="2103.32"/></g>
<g stroke="#000" stroke-width="3.6" fill="none"><line x1="923.99" y1="1954.56" x2="923.99" y2="2002.9"/><line x1="915.99" y1="1954.56" x2="931.99" y2="1954.56"/><line x1="915.99" y1="2002.9" x2="931.99" y2="2002.9"/></g>
<g stroke="#000" stroke-width="3.6" fill="none"><line x1="1020.58" y1="2098.49" x2="1020.58" y2="2110.04"/><line x1="1012.58" y1="2098.49" x2="1028.58" y2="2098.49"/><line x1="1012.58" y1="2110.04" x2="1028.58" y2="2110.04"/></g>
<g stroke="#000" stroke-width="3.6" fill="none"><line x1="1117.48" y1="2055.95" x2="1117.48" y2="2060.15"/><line x1="1109.48" y1="2055.95" x2="1125.48" y2="2055.95"/><line x1="1109.48" y1="2060.15" x2="1125.48" y2="2060.15"/></g>
<g stroke="#000" stroke-width="3.4" fill="none"><line x1="764.71" y1="1769.72" x2="764.71" y2="2146.9"/><line x1="753.41" y1="2145.2" x2="1184.65" y2="2145.2"/><line x1="753.41" y1="1873.67" x2="764.71" y2="1873.67"/><line x1="753.41" y1="2009.28" x2="764.71" y2="2009.28"/><line x1="827.72" y1="2145.2" x2="827.72" y2="2161.7"/><line x1="923.99" y1="2145.2" x2="923.99" y2="2161.7"/><line x1="1020.58" y1="2145.2" x2="1020.58" y2="2161.7"/><line x1="1117.48" y1="2145.2" x2="1117.48" y2="2161.7"/></g>
<text class="tk" x="748.81" y="1883.97">400</text>
<text class="tk" x="748.81" y="2019.58">200</text>
<text class="tk" x="748.81" y="2155.5">0</text>
<text class="lt" x="828.04" y="2089.71">c</text>
<text class="lt" x="924.63" y="1948.35">a</text>
<text class="lt" x="1021.22" y="2089.71">c</text>
<text class="lt" x="1118.12" y="2048.93">b</text>
<text class="xl" transform="translate(830.76 2193.01) rotate(-45)">28<tspan class="dc">℃</tspan><tspan dx="3.5"> ZEN</tspan></text>
<text class="xl" transform="translate(931.06 2189.11) rotate(-45)">28<tspan class="dc">℃</tspan></text>
<text class="xl" transform="translate(1027.93 2189.21) rotate(-45)">15<tspan class="dc">℃</tspan><tspan dx="3.5"> ZEN</tspan></text>
<text class="xl" transform="translate(1118.65 2194.11) rotate(-45)">15<tspan class="dc">℃</tspan></text>
<text class="yl" transform="translate(654.37 1947.1) rotate(-90) scale(0.9808 1)">Proline<tspan class="cj" dx="-14">（</tspan><tspan dx="2"> μg/mL</tspan><tspan class="cj">）</tspan></text>
</g>
<g>
<rect x="1391.74" y="2041.02" width="60.13" height="101.95" fill="#e5ccf0" stroke="#000" stroke-width="3.4"/>
<rect x="1487.69" y="2041.98" width="60.13" height="100.99" fill="#bd85d6" stroke="#000" stroke-width="3.4"/>
<rect x="1584.6" y="1876.31" width="59.81" height="266.66" fill="#7f379b" stroke="#000" stroke-width="3.4"/>
<rect x="1681.18" y="2089.95" width="59.49" height="53.01" fill="#4f2361" stroke="#000" stroke-width="3.4"/>
<g stroke="#000" stroke-width="3.6" fill="none"><line x1="1421.32" y1="2029.72" x2="1421.32" y2="2048.95"/><line x1="1413.32" y1="2029.72" x2="1429.32" y2="2029.72"/><line x1="1413.32" y1="2048.95" x2="1429.32" y2="2048.95"/></g>
<g stroke="#000" stroke-width="3.6" fill="none"><line x1="1517.27" y1="2016.93" x2="1517.27" y2="2063.67"/><line x1="1509.27" y1="2016.93" x2="1525.27" y2="2016.93"/><line x1="1509.27" y1="2063.67" x2="1525.27" y2="2063.67"/></g>
<g stroke="#000" stroke-width="3.6" fill="none"><line x1="1613.54" y1="1854.78" x2="1613.54" y2="1894.8"/><line x1="1605.54" y1="1854.78" x2="1621.54" y2="1854.78"/><line x1="1605.54" y1="1894.8" x2="1621.54" y2="1894.8"/></g>
<g stroke="#404040" stroke-width="2.4" fill="none"><line x1="1710.13" y1="2084.1" x2="1710.13" y2="2091.49"/><line x1="1702.13" y1="2084.1" x2="1718.13" y2="2084.1"/><line x1="1702.13" y1="2091.49" x2="1718.13" y2="2091.49"/></g>
<g stroke="#000" stroke-width="3.4" fill="none"><line x1="1357.68" y1="1764.5" x2="1357.68" y2="2144.66"/><line x1="1346.38" y1="2142.96" x2="1776.65" y2="2142.96"/><line x1="1346.38" y1="1766.2" x2="1357.68" y2="1766.2"/><line x1="1346.38" y1="1841.36" x2="1357.68" y2="1841.36"/><line x1="1346.38" y1="1916.84" x2="1357.68" y2="1916.84"/><line x1="1346.38" y1="1992" x2="1357.68" y2="1992"/><line x1="1346.38" y1="2067.8" x2="1357.68" y2="2067.8"/><line x1="1421.32" y1="2142.96" x2="1421.32" y2="2159.46"/><line x1="1517.27" y1="2142.96" x2="1517.27" y2="2159.46"/><line x1="1613.54" y1="2142.96" x2="1613.54" y2="2159.46"/><line x1="1710.13" y1="2142.96" x2="1710.13" y2="2159.46"/></g>
<text class="tk" x="1341.78" y="1776.5">2500</text>
<text class="tk" x="1341.78" y="1851.66">2000</text>
<text class="tk" x="1341.78" y="1927.14">1500</text>
<text class="tk" x="1341.78" y="2002.3">1000</text>
<text class="tk" x="1341.78" y="2078.1">500</text>
<text class="tk" x="1341.78" y="2153.26">0</text>
<text class="lt" x="1421.32" y="2021.11">b</text>
<text class="lt" x="1517.59" y="2008.32">b</text>
<text class="lt" x="1614.18" y="1847.6">a</text>
<text class="lt" x="1710.13" y="2076.28">c</text>
<text class="xl" transform="translate(1425.97 2188.99) rotate(-45)">7<tspan dx="3.5"> ZEN</tspan></text>
<text class="xl" transform="translate(1527.51 2183.49) rotate(-45)">7</text>
<text class="xl" transform="translate(1623.02 2184.49) rotate(-45)">4<tspan dx="3.5"> ZEN</tspan></text>
<text class="xl" transform="translate(1719.38 2184.29) rotate(-45)">4</text>
<text class="yl" transform="translate(1239.48 1943.86) rotate(-90) scale(0.9608 1)">Trehalose<tspan class="cj" dx="-14">（</tspan><tspan dx="2"> μg/mL</tspan><tspan class="cj">）</tspan></text>
</g>
<g>
<rect x="2019.09" y="2040.38" width="59.81" height="101.63" fill="#dbb4e8" stroke="#000" stroke-width="3.4"/>
<rect x="2115.04" y="2041.66" width="60.13" height="100.35" fill="#bd85d6" stroke="#000" stroke-width="3.4"/>
<rect x="2211.63" y="2067.56" width="59.49" height="74.44" fill="#7f379b" stroke="#000" stroke-width="3.4"/>
<rect x="2308.54" y="2049.01" width="59.81" height="92.99" fill="#572870" stroke="#000" stroke-width="3.4"/>
<g stroke="#000" stroke-width="3.6" fill="none"><line x1="2048.04" y1="2029.72" x2="2048.04" y2="2048.31"/><line x1="2040.04" y1="2029.72" x2="2056.04" y2="2029.72"/><line x1="2040.04" y1="2048.31" x2="2056.04" y2="2048.31"/></g>
<g stroke="#000" stroke-width="3.6" fill="none"><line x1="2144.63" y1="2016.29" x2="2144.63" y2="2062.71"/><line x1="2136.63" y1="2016.29" x2="2152.63" y2="2016.29"/><line x1="2136.63" y1="2062.71" x2="2152.63" y2="2062.71"/></g>
<g stroke="#000" stroke-width="3.6" fill="none"><line x1="2241.22" y1="2062.67" x2="2241.22" y2="2068.14"/><line x1="2233.22" y1="2062.67" x2="2249.22" y2="2062.67"/><line x1="2233.22" y1="2068.14" x2="2249.22" y2="2068.14"/></g>
<g stroke="#000" stroke-width="3.6" fill="none"><line x1="2338.12" y1="2043.48" x2="2338.12" y2="2048.95"/><line x1="2330.12" y1="2043.48" x2="2346.12" y2="2043.48"/><line x1="2330.12" y1="2048.95" x2="2346.12" y2="2048.95"/></g>
<g stroke="#000" stroke-width="3.4" fill="none"><line x1="1985.35" y1="1764.5" x2="1985.35" y2="2143.7"/><line x1="1974.05" y1="2142" x2="2404.65" y2="2142"/><line x1="1974.05" y1="1766.2" x2="1985.35" y2="1766.2"/><line x1="1974.05" y1="1840.72" x2="1985.35" y2="1840.72"/><line x1="1974.05" y1="1916.52" x2="1985.35" y2="1916.52"/><line x1="1974.05" y1="1991.68" x2="1985.35" y2="1991.68"/><line x1="1974.05" y1="2067.16" x2="1985.35" y2="2067.16"/><line x1="2048.04" y1="2142" x2="2048.04" y2="2158.5"/><line x1="2144.63" y1="2142" x2="2144.63" y2="2158.5"/><line x1="2241.22" y1="2142" x2="2241.22" y2="2158.5"/><line x1="2338.12" y1="2142" x2="2338.12" y2="2158.5"/></g>
<text class="tk" x="1969.45" y="1776.5">2500</text>
<text class="tk" x="1969.45" y="1851.02">2000</text>
<text class="tk" x="1969.45" y="1926.82">1500</text>
<text class="tk" x="1969.45" y="2001.98">1000</text>
<text class="tk" x="1969.45" y="2077.46">500</text>
<text class="tk" x="1969.45" y="2152.3">0</text>
<text class="lt" x="2048.68" y="2021.27">a</text>
<text class="lt" x="2144.63" y="2009.12">a</text>
<text class="lt" x="2242.17" y="2054.69">b</text>
<text class="lt" x="2338.12" y="2035.5">ab</text>
<text class="xl" transform="translate(2051.22 2190.41) rotate(-45)">28<tspan class="dc">℃</tspan><tspan dx="3.5"> ZEN</tspan></text>
<text class="xl" transform="translate(2151.98 2186.51) rotate(-45)">28<tspan class="dc">℃</tspan></text>
<text class="xl" transform="translate(2248.35 2185.61) rotate(-45)">15<tspan class="dc">℃</tspan><tspan dx="3.5"> ZEN</tspan></text>
<text class="xl" transform="translate(2339.07 2191.01) rotate(-45)">15<tspan class="dc">℃</tspan></text>
<text class="yl" transform="translate(1868.17 1943.86) rotate(-90) scale(0.9608 1)">Trehalose<tspan class="cj" dx="-14">（</tspan><tspan dx="2"> μg/mL</tspan><tspan class="cj">）</tspan></text>
</g>
<text class="pn" x="30.7" y="59.9">A</text>
<text class="pn" x="1227" y="60.6">B</text>
<text class="pn" x="27.1" y="618.7">C</text>
<text class="pn" x="1229.8" y="629.3">D</text>
<text class="pn" x="39.8" y="1197.2">E</text>
<text class="pn" x="1233.3" y="1203.4">F</text>
<text class="pn" x="22.7" y="1777.9">G</text>
<text class="pn" x="1207.2" y="1780.5">H</text>
</svg>
</body>
</html>
